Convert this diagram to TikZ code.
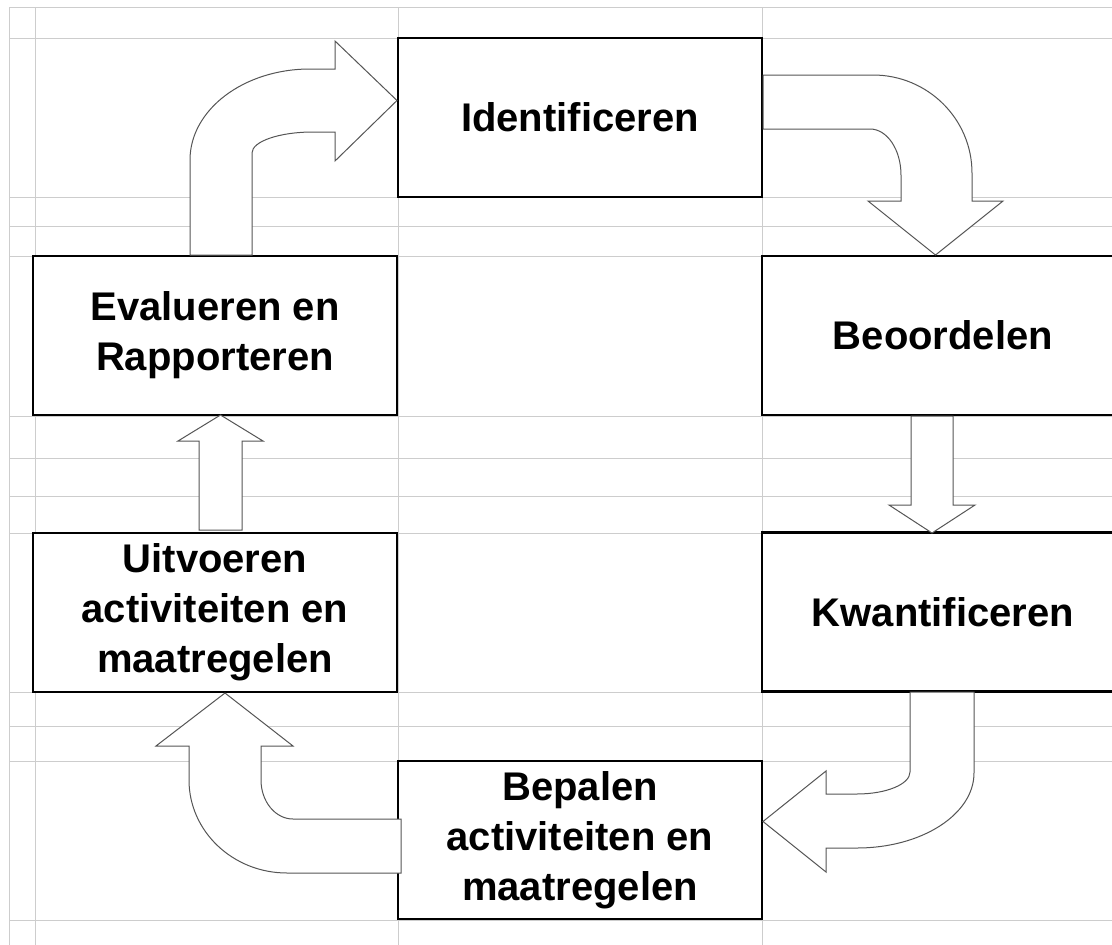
\documentclass[tikz,border=0pt]{standalone}
\usepackage{fontspec}
\setmainfont{Liberation Sans}
\definecolor{gridc}{RGB}{205,205,205}
\definecolor{arrowc}{RGB}{85,85,85}
\begin{document}
\begin{tikzpicture}[x=1pt,y=-1pt,
  gridline/.style={draw=gridc,line width=1pt},
  stepbox/.style={draw=black,line width=2.6pt,fill=white,minimum height=159pt,
    inner sep=0pt,align=center,font=\bfseries\fontsize{40}{50}\selectfont},
  blockarrow/.style={draw=arrowc,line width=1pt,fill=white,line join=miter}]
\useasboundingbox (0,0) rectangle (1112,945);
\clip (0,0) rectangle (1112,945);
\fill[white] (0,0) rectangle (1112,945);
% spreadsheet grid
\foreach \gx in {9,35,398,762} \draw[gridline] (\gx,7) -- (\gx,945);
\foreach \gy in {7,38,197,226,256,416,458,496,533,692,726,761,920} \draw[gridline] (9,\gy) -- (1112,\gy);
% boxes
\node[stepbox,minimum width=364pt] (ident)  at (580,117.5) {Identificeren};
\node[stepbox,minimum width=364pt] (eval)   at (215,335.5) {Evalueren en\\Rapporteren};
\node[stepbox,minimum width=362pt] (beoord) at (943,335.5) {Beoordelen};
\node[stepbox,minimum width=364pt] (uitv)   at (215,612.5) {Uitvoeren\\activiteiten en\\maatregelen};
\node[stepbox,minimum width=362pt] (kwant)  at (943,612)   {Kwantificeren};
\node[stepbox,minimum width=364pt,minimum height=158pt] (bepal) at (580,840) {Bepalen\\activiteiten en\\maatregelen};
% arrow: Evalueren -> Identificeren
\draw[blockarrow] (190,255) -- (190,160)
  .. controls (190,109.7) and (243.7,69) .. (310,69)
  -- (335,69) -- (335,41) -- (397,100.5) -- (335,161) -- (335,132) -- (313,132)
  .. controls (279.3,132) and (252,141.4) .. (252,153)
  -- (252,255) -- cycle;
% arrow: Identificeren -> Beoordelen
\draw[blockarrow] (763,75) -- (873,75)
  .. controls (927.7,75) and (972,118.9) .. (972,173)
  -- (972,201) -- (1003,201) -- (935.5,255) -- (868,201) -- (901,201) -- (901,175)
  .. controls (901,149.6) and (887.1,129) .. (870,129)
  -- (763,129) -- cycle;
% arrow: Beoordelen -> Kwantificeren
\draw[blockarrow] (911,416) -- (911,505) -- (889,505) -- (932,533) -- (975,505)
  -- (953,505) -- (953,416) -- cycle;
% arrow: Kwantificeren -> Bepalen
\draw[blockarrow] (910,692) -- (910,772)
  .. controls (910,784.2) and (886.3,794) .. (857,794)
  -- (826,794) -- (826,771) -- (763,821.5) -- (826,872) -- (826,848) -- (857,848)
  .. controls (921.6,848) and (974,814.4) .. (974,773)
  -- (974,692) -- cycle;
% arrow: Bepalen -> Uitvoeren
\draw[blockarrow] (401,819) -- (293,819)
  .. controls (275.3,819) and (261,801.5) .. (261,780)
  -- (261,746) -- (293,746) -- (225,693) -- (156,746) -- (189,746) -- (189,780)
  .. controls (189,831.4) and (232.9,873) .. (287,873)
  -- (401,873) -- cycle;
% arrow: Uitvoeren -> Evalueren
\draw[blockarrow] (199,530) -- (199,441) -- (178,441) -- (220.5,415) -- (263,441)
  -- (242,441) -- (242,530) -- cycle;
\end{tikzpicture}
\end{document}
